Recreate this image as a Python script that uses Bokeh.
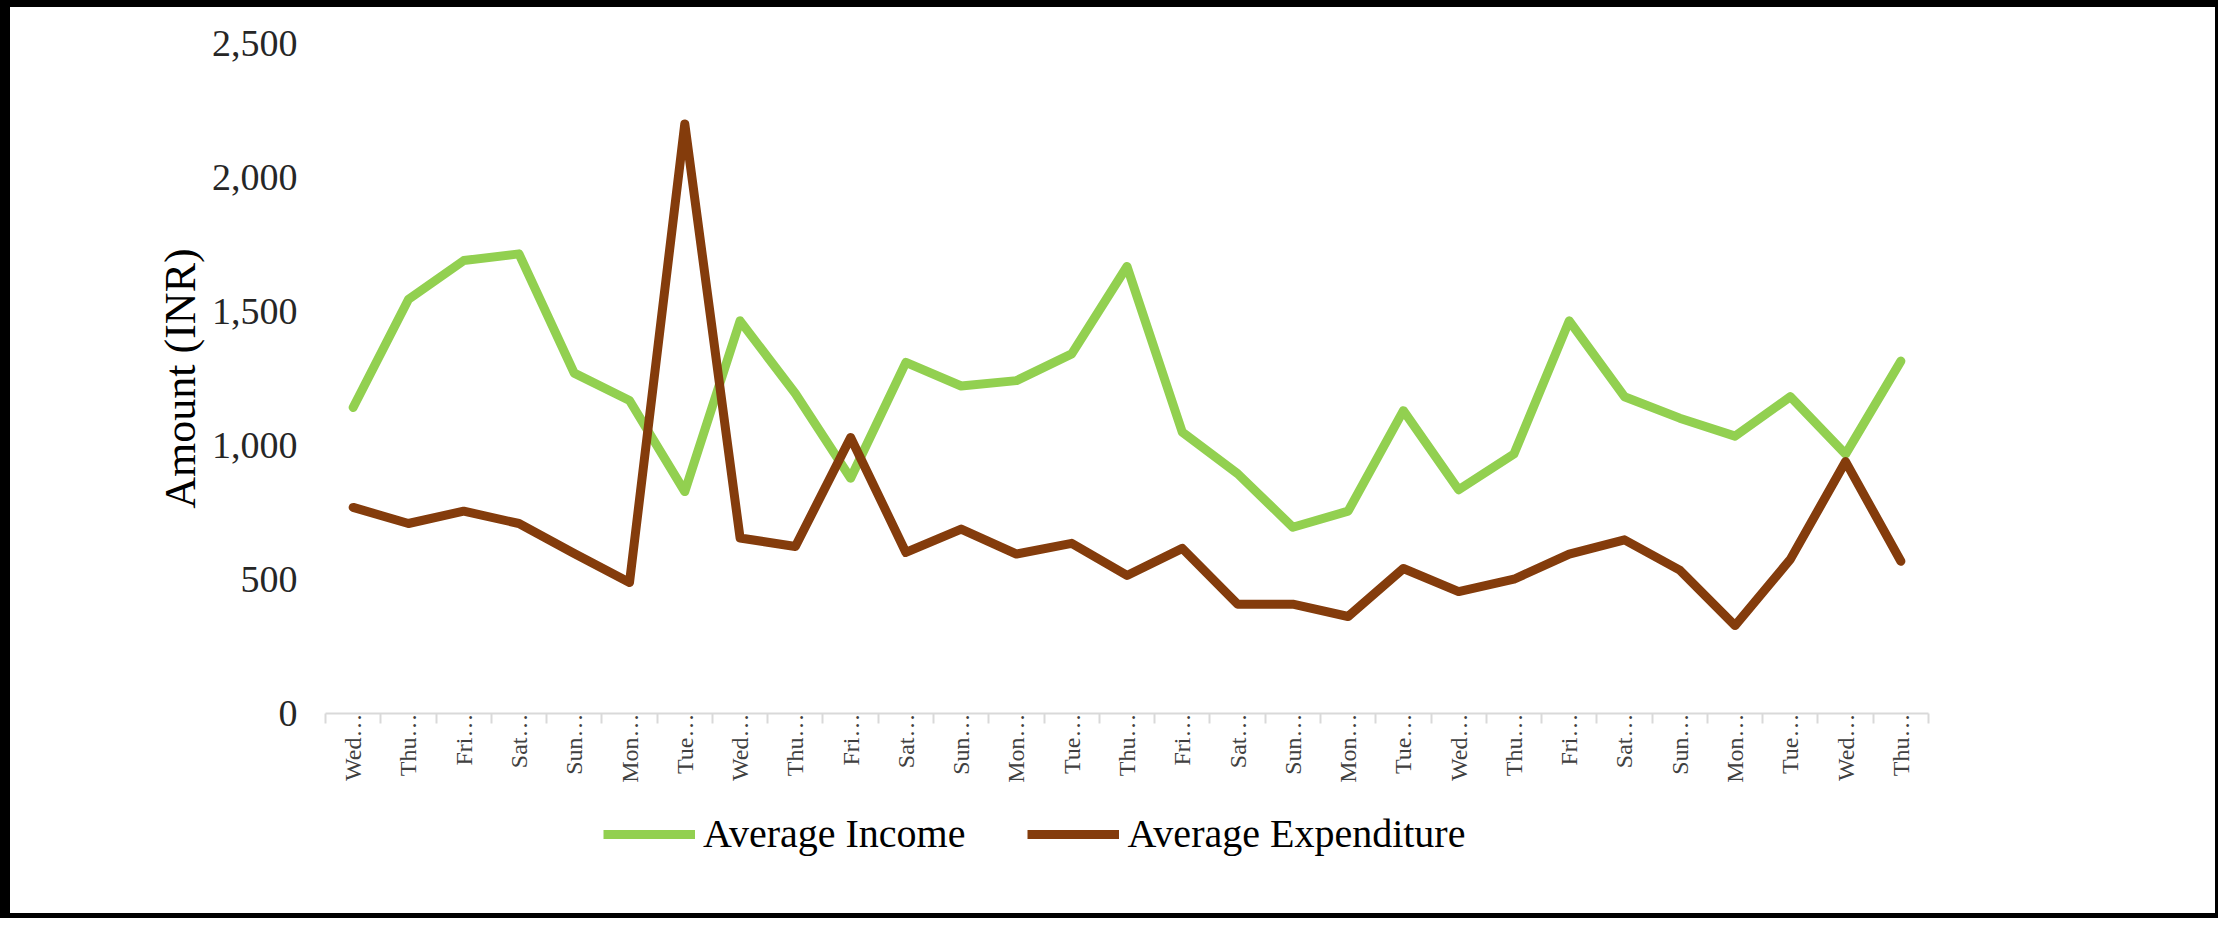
import math
from bokeh.plotting import figure
from bokeh.layouts import column
from bokeh.models import Range1d, FixedTicker, NumeralTickFormatter, Legend, LegendItem
from bokeh.embed import file_html
from bokeh.resources import INLINE

days = ["Wed", "Thu", "Fri", "Sat", "Sun", "Mon", "Tue", "Wed", "Thu", "Fri",
        "Sat", "Sun", "Mon", "Tue", "Thu", "Fri", "Sat", "Sun", "Mon", "Tue",
        "Wed", "Thu", "Fri", "Sat", "Sun", "Mon", "Tue", "Wed", "Thu"]
income = [1142, 1545, 1690, 1715, 1270, 1168, 828, 1465, 1194, 878,
          1310, 1222, 1242, 1342, 1668, 1050, 895, 695, 755, 1130,
          835, 968, 1465, 1182, 1102, 1035, 1182, 968, 1315]
expenditure = [769, 709, 755, 709, 597, 489, 2200, 655, 623, 1030,
               601, 688, 595, 635, 515, 616, 408, 408, 362, 541,
               455, 501, 595, 648, 535, 328, 575, 940, 568]
y_ticks = [0, 500, 1000, 1500, 2000, 2500]
series_names = ["Average Income", "Average Expenditure"]

FONT = "Liberation Serif"
GREEN = "#92D050"
BROWN = "#843C0C"

n = len(days)
xs = [i + 0.5 for i in range(n)]
bounds = [i for i in range(n + 1)]

W = 2218
H1 = 786
H2 = 918 - H1

p = figure(width=W, height=H1,
           x_range=Range1d(0, n), y_range=Range1d(y_ticks[0], y_ticks[-1]),
           output_backend="svg", toolbar_location=None,
           min_border_left=315, min_border_right=300,
           min_border_top=36, min_border_bottom=80)
p.styles = {"border-style": "solid", "border-color": "black",
            "border-width": "7px 3px 0px 10px"}
p.outline_line_color = None
p.grid.visible = False
p.background_fill_color = "white"
p.border_fill_color = "white"

p.line(xs, income, line_color=GREEN, line_width=9, line_join="round", line_cap="round")
p.line(xs, expenditure, line_color=BROWN, line_width=9, line_join="round", line_cap="round")

# x axis
xa = p.xaxis[0]
xa.ticker = FixedTicker(ticks=xs, minor_ticks=bounds)
xa.major_label_overrides = {x: d + "\u2026" for x, d in zip(xs, days)}
xa.major_label_orientation = math.pi / 2
xa.major_label_text_font = FONT
xa.major_label_text_font_size = "24px"
xa.major_label_text_color = "#404040"
xa.major_label_standoff = -10
xa.major_tick_line_color = None
xa.minor_tick_line_color = "#d9d9d9"
xa.minor_tick_line_width = 2
xa.minor_tick_in = 0
xa.minor_tick_out = 10
xa.axis_line_color = "#d9d9d9"
xa.axis_line_width = 2

# y axis
ya = p.yaxis[0]
ya.ticker = FixedTicker(ticks=y_ticks)
ya.formatter = NumeralTickFormatter(format="0,0")
ya.major_label_text_font = FONT
ya.major_label_text_font_size = "38px"
ya.major_label_text_color = "#262626"
ya.major_label_standoff = 22
ya.major_tick_line_color = None
ya.minor_tick_line_color = None
ya.axis_line_color = None
ya.axis_label = "Amount (INR)"
ya.axis_label_text_font = FONT
ya.axis_label_text_font_size = "44px"
ya.axis_label_text_font_style = "normal"
ya.axis_label_text_color = "#000000"
ya.axis_label_standoff = 4

# legend strip below the chart (its frame is aligned with the chart frame)
p2 = figure(width=W, height=H2, x_range=Range1d(0, n), y_range=Range1d(-2, -1),
            output_backend="svg", toolbar_location=None,
            min_border=0, min_border_left=0, min_border_right=0,
            min_border_top=0, min_border_bottom=0)
p2.styles = {"border-style": "solid", "border-color": "black",
             "border-width": "0px 3px 5px 10px"}
p2.axis.visible = False
p2.grid.visible = False
p2.outline_line_color = None
p2.background_fill_color = "white"
p2.border_fill_color = "white"
# same series, outside this strip's visible range: only their legend keys show
k1 = p2.line(xs, income, line_color=GREEN, line_width=9)
k2 = p2.line(xs, expenditure, line_color=BROWN, line_width=9)

legend = Legend(items=[LegendItem(label=series_names[0], renderers=[k1]),
                       LegendItem(label=series_names[1], renderers=[k2])],
                orientation="horizontal", location=(278, 61),
                label_text_font=FONT, label_text_font_size="40px",
                label_text_color="#000000",
                glyph_width=92, glyph_height=40, label_standoff=8,
                spacing=62, padding=0, margin=0,
                border_line_color=None, background_fill_alpha=0)
p2.add_layout(legend, "center")

layout = column(p, p2, spacing=0)
open("out.html", "w").write(file_html(layout, INLINE))
